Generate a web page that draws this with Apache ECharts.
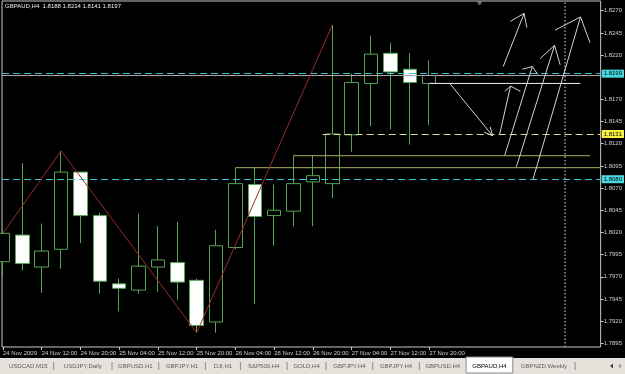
<!DOCTYPE html>
<html><head><meta charset="utf-8">
<style>html,body{margin:0;padding:0;background:#000;}#c{width:625px;height:374px;}</style>
<script src="https://cdn.jsdelivr.net/npm/echarts@6/dist/echarts.min.js"></script>
</head><body><div id="c"></div>
<script>
// ---------- data ----------
const titleText = 'GBPAUD,H4  1.8188 1.8214 1.8141 1.8197';
const barIndex = [0,1,2,3,4,5,6,7,8,9,10,11,12,13,14,15,16,17,18,19,20,21,22];
const opens  = [1.7987,1.8017,1.7981,1.8001,1.8088,1.8039,1.7962,1.7955,1.7981,1.7986,1.7966,1.7919,1.8003,1.8074,1.8039,1.8044,1.8077,1.8075,1.8130,1.8188,1.8222,1.8204,1.8188];
const closes = [1.8019,1.7985,1.7999,1.8088,1.8039,1.7965,1.7957,1.7982,1.7989,1.7964,1.7915,1.8005,1.8075,1.8038,1.8045,1.8075,1.8084,1.8131,1.8189,1.8221,1.8201,1.8189,1.8197];
const lows   = [1.7970,1.7977,1.7952,1.7979,1.8008,1.7951,1.7931,1.7951,1.7953,1.7944,1.7907,1.7907,1.8001,1.7939,1.8005,1.8027,1.8027,1.8059,1.8111,1.8140,1.8136,1.8119,1.8141];
const highs  = [1.8021,1.8098,1.8030,1.8112,1.8088,1.8042,1.7968,1.8041,1.8027,1.8032,1.7968,1.8023,1.8093,1.8093,1.8074,1.8107,1.8107,1.8254,1.8199,1.8242,1.8234,1.8222,1.8214];

const timeLabelBars = [0,2,4,6,8,10,12,14,16,18,20,22];
const timeLabels = ['24 Nov 2009','24 Nov 12:00','24 Nov 20:00','25 Nov 04:00','25 Nov 12:00','25 Nov 20:00','26 Nov 04:00','26 Nov 12:00','26 Nov 20:00','27 Nov 04:00','27 Nov 12:00','27 Nov 20:00'];
const priceTicks = [1.7895,1.7920,1.7945,1.7970,1.7995,1.8020,1.8045,1.8070,1.8095,1.8120,1.8145,1.8170,1.8220,1.8245,1.8270];

// zigzag points [bar, price]
const zigzag = [[0,1.8019],[3,1.8112],[10,1.7907],[17,1.8254]];
// horizontal lines with price box
const cyanLevels = [1.8199, 1.8080];
const yellowLevel = 1.8131;
const yellowStartBar = 16.5;
const bidLevel = 1.8197;
// trend lines [[bar,price],[bar,price]]
const whiteLine = [[22,1.8188],[29.8,1.8188]];
const oliveLines = [
  [[15,1.81065],[30.3,1.81065]],
  [[12,1.8093],[30.85,1.8093]]
];
const vLineBar = 29;
const topMarker = [[24.6,1.8278]];
// arrows: shaft [start, tip], head [wing, tip, wing]
const arrowShafts = [
  [[23.06,1.8188],[25.27,1.8129]],
  [[25.64,1.8131],[26.20,1.8185]],
  [[25.90,1.8107],[27.32,1.8207]],
  [[26.50,1.8094],[28.47,1.8231]],
  [[27.36,1.8080],[29.81,1.8263]],
  [[25.82,1.8207],[26.90,1.8267]]
];
const arrowHeads = [
  [[24.84,1.8133],[25.27,1.8129],[25.15,1.8139]],
  [[25.90,1.8179],[26.20,1.8185],[26.71,1.8179]],
  [[26.81,1.8204],[27.32,1.8207],[27.61,1.8198]],
  [[27.73,1.8216],[28.47,1.8231],[28.76,1.8209]],
  [[28.49,1.8248],[29.81,1.8263],[30.30,1.8234]],
  [[26.19,1.8258],[26.90,1.8267],[27.04,1.8251]]
];
const tabNames = ['USDCAD,M15','USDJPY,Daily','GBPUSD,H1','GBPJPY,H1','DJI,H1','S&P500,H4','GOLD,H4','GBPJPY,H4','GBPJPY,H4','GBPUSD,H4','GBPAUD,H4','GBPNZD,Weekly'];
const activeTab = 'GBPAUD,H4';

// ---------- chart ----------
const FONT = "'Liberation Sans', Arial, sans-serif";
const candleData = barIndex.map((b,i)=>[b, opens[i], closes[i], lows[i], highs[i]]);
const chart = echarts.init(document.getElementById('c'), null, {renderer:'canvas'});

const series = [];
series.push({
  type:'candlestick', data:candleData, barWidth:14, z:2,
  dimensions:['t','open','close','lowest','highest'],
  encode:{x:'t', y:['open','close','lowest','highest']},
  itemStyle:{color:'#000', color0:'#fff', borderColor:'#56a456', borderColor0:'#56a456', borderWidth:1},
  silent:true
});
function lineS(data, color, type, width, z){
  return {type:'line', data, showSymbol:false, symbol:'none', silent:true, z:z||5,
    lineStyle:{color, width:width||1, type:type||'solid'}, animation:false};
}
oliveLines.forEach(l=>series.push(lineS(l,'#8e8e52','solid',1.3,4)));
series.push(lineS(whiteLine,'#f0f0f0','solid',1,5));
series.push(lineS(zigzag,'#a02a2a','solid',1,6));
arrowShafts.forEach(a=>series.push(lineS(a,'#d4d4d4','solid',1,6)));
arrowHeads.forEach(a=>series.push(lineS(a,'#d4d4d4','solid',1,6)));

const boxLabel = (bg, v)=>({show:true, position:'end', distance:1, formatter:v.toFixed(4),
  backgroundColor:bg, color:'#000', fontSize:6, fontFamily:FONT, padding:[1,2,1,2], lineHeight:6});
series.push({
  type:'line', data:[], z:5, silent:true,
  markLine:{silent:true, symbol:'none', animation:false, precision:4,
    data:[
      {yAxis:bidLevel, lineStyle:{color:'#a8a8a8', type:'solid', width:1}, label:{show:false}},
      ...cyanLevels.map(v=>({yAxis:v, lineStyle:{color:'#38c4cc', type:[7,4], width:1.2}, label:boxLabel('#48d8e0', v)})),
      [{coord:[yellowStartBar,yellowLevel], lineStyle:{color:'#dcdc9a', type:[7,4], width:1.2}, label:boxLabel('#f4f040', yellowLevel)},
       {coord:[30.85,yellowLevel]}],
      {xAxis:vLineBar, lineStyle:{color:'#9a9a9a', type:[1.5,2], width:1.5}, label:{show:false}}
    ]}
});
series.push({type:'scatter', data:topMarker, symbol:'triangle', symbolRotate:180, symbolSize:[6,4], itemStyle:{color:'#8a8a8a'}, silent:true, z:7});

// tabs graphic
const graphics = [];
graphics.push({type:'rect', shape:{x:0,y:358,width:625,height:16}, style:{fill:'#e4e2da'}, silent:true});
let tx = 3;
tabNames.forEach((n,i)=>{
  const w = 11.6 + 3.9*n.length;
  const active = n===activeTab;
  if(active){
    graphics.push({type:'rect', shape:{x:tx,y:357,width:w,height:16}, style:{fill:'#ffffff', stroke:'#8a8a8a', lineWidth:1}, silent:true});
  }
  graphics.push({type:'text', x:tx+w/2, y:366, style:{text:n, fill:active?'#000':'#5c5c5c', font:'6px '+FONT, textAlign:'center', textVerticalAlign:'middle'}, silent:true});
  const nextActive = tabNames[i+1]===activeTab;
  if(!active && !nextActive){
    graphics.push({type:'line', shape:{x1:tx+w,y1:362,x2:tx+w,y2:370}, style:{stroke:'#8c8c8c', lineWidth:1}, silent:true});
  }
  tx += w;
});
graphics.push({type:'polygon', shape:{points:[[610,366],[613,363.5],[613,368.5]]}, style:{fill:'#444'}, silent:true});
graphics.push({type:'polygon', shape:{points:[[622,366],[619,363.5],[619,368.5]]}, style:{fill:'#999'}, silent:true});
graphics.push({type:'text', x:5, y:3, style:{text:titleText, fill:'#f0f0f0', font:'6px '+FONT, textVerticalAlign:'top'}, silent:true, z:10});

chart.setOption({
  animation:false,
  backgroundColor:'#000',
  grid:{left:2, right:22, top:1, bottom:27, show:true, backgroundColor:'#000', borderColor:'#c8c8c8', borderWidth:1},
  xAxis:{type:'value', min:-0.05, max:30.85, splitLine:{show:false}, axisLine:{show:false, onZero:false},
    axisTick:{show:true, customValues:timeLabelBars, length:3, lineStyle:{color:'#c8c8c8'}},
    axisLabel:{customValues:timeLabelBars, formatter:(v)=>timeLabels[timeLabelBars.indexOf(Math.round(v))]||'',
      align:'left', margin:3, color:'#d0d0d0', fontSize:6, fontFamily:FONT}},
  yAxis:{type:'value', position:'right', min:1.789082, max:1.828094, splitLine:{show:false}, axisLine:{show:false, onZero:false},
    axisTick:{show:true, customValues:priceTicks, length:3, lineStyle:{color:'#c8c8c8'}},
    axisLabel:{customValues:priceTicks, formatter:(v)=>v.toFixed(4), margin:3, color:'#d0d0d0', fontSize:6, fontFamily:FONT}},
  graphic:graphics,
  series
});
</script></body></html>
